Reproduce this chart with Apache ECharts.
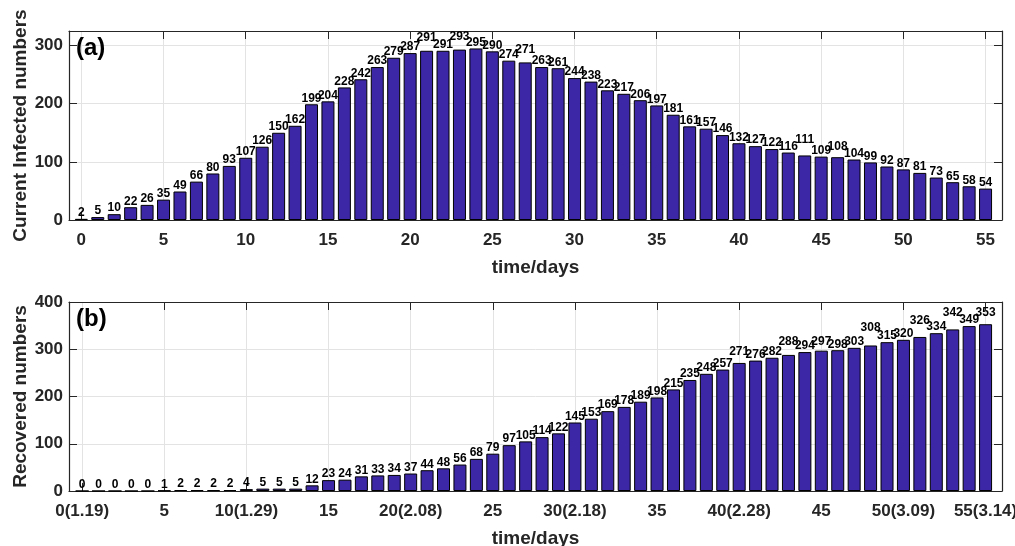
<!DOCTYPE html>
<html>
<head>
<meta charset="utf-8">
<script src="https://cdn.jsdelivr.net/npm/echarts@6/dist/echarts.min.js"></script>
<style>html,body{margin:0;padding:0;background:#fff}#c{width:1015px;height:546px}</style>
</head>
<body>
<div id="c"></div>
<script>
// ---- data ----
const days = [0,1,2,3,4,5,6,7,8,9,10,11,12,13,14,15,16,17,18,19,20,21,22,23,24,25,26,27,
  28,29,30,31,32,33,34,35,36,37,38,39,40,41,42,43,44,45,46,47,48,49,50,51,52,53,54,55];
const infected = [2,5,10,22,26,35,49,66,80,93,107,126,150,162,199,204,228,242,263,279,287,291,291,293,295,290,
  274,271,263,261,244,238,223,217,206,197,181,161,157,146,132,127,122,116,111,109,108,104,99,92,87,81,73,65,58,54];
const recovered = [0,0,0,0,0,1,2,2,2,2,4,5,5,5,12,23,24,31,33,34,37,44,48,56,68,79,97,105,114,122,
  145,153,169,178,189,198,215,235,248,257,271,276,282,288,294,297,298,303,308,315,320,326,334,342,349,353];
const xTicks = [0,5,10,15,20,25,30,35,40,45,50,55];
const xTicksTop = [5,10,15,20,25,30,35,40,45,50,55];
const xTickLabelsB = ['0(1.19)','5','10(1.29)','15','20(2.08)','25','30(2.18)','35','40(2.28)','45','50(3.09)','55(3.14)'];
const yTicksA = [0,100,200,300];
const yTicksB = [0,100,200,300,400];

// ---- styling ----
const FONT = 'Liberation Sans, Arial, Helvetica, sans-serif';
const AX = '#262626';
const BAR = '#3C27A6';
// extra label lift (px) to mimic the staggered labels of the original
const liftA = {21:7, 23:7, 27:7, 44:10, 46:5};
const liftB = {40:5, 43:7, 45:3, 48:12, 51:10, 53:11, 55:6};

function barData(vals, lift) {
  return days.map((d, i) => ({
    value: [d, vals[i]],
    label: lift[i] ? {offset: [0, -lift[i]]} : undefined
  }));
}

function xAxes(gi, min, max, labels) {
  const base = {
    type: 'value', gridIndex: gi, min: min, max: max,
    axisLine: {show: true, onZero: false, lineStyle: {color: AX, width: 1.2}},
    axisTick: {show: true, inside: true, length: 8, customValues: xTicks, lineStyle: {color: AX, width: 1}},
    splitLine: {show: false}
  };
  return [
    Object.assign({}, base, {
      position: 'bottom',
      axisLabel: {
        show: true, customValues: xTicks, color: AX, fontSize: 17, fontWeight: 'bold',
        fontFamily: FONT, margin: 12,
        formatter: v => labels ? labels[xTicks.indexOf(Math.round(v))] : String(Math.round(v))
      },
      splitLine: {show: true, lineStyle: {color: '#e3e3e3', width: 1}},
      name: 'time/days', nameLocation: 'middle', nameGap: 38,
      nameTextStyle: {color: AX, fontSize: 19, fontWeight: 'bold', fontFamily: FONT}
    }),
    Object.assign({}, base, {
      position: 'top', axisLabel: {show: false},
      axisTick: {show: true, inside: true, length: 8, customValues: xTicksTop, lineStyle: {color: AX, width: 1}}
    })
  ];
}

function yAxes(gi, max, ticks, name) {
  const base = {
    type: 'value', gridIndex: gi, min: 0, max: max,
    axisLine: {show: true, onZero: false, lineStyle: {color: AX, width: 1.2}},
    axisTick: {show: true, inside: true, length: 8, customValues: ticks, lineStyle: {color: AX, width: 1}},
    splitLine: {show: false}
  };
  return [
    Object.assign({}, base, {
      position: 'left',
      axisLabel: {show: true, customValues: ticks, color: AX, fontSize: 17, fontWeight: 'bold', fontFamily: FONT, margin: 6},
      splitLine: {show: true, lineStyle: {color: '#e3e3e3', width: 1}},
      name: name, nameLocation: 'middle', nameGap: 39, nameMoveOverlap: false,
      nameTextStyle: {color: AX, fontSize: 19, fontWeight: 'bold', fontFamily: FONT}
    }),
    Object.assign({}, base, {position: 'right', axisLabel: {show: false}})
  ];
}

const xa = xAxes(0, -0.75, 56, null);
const xb = xAxes(1, -0.8, 56, xTickLabelsB);
const ya = yAxes(0, 325, yTicksA, 'Current Infected numbers');
const yb = yAxes(1, 400, yTicksB, 'Recovered numbers');

function barSeries(xi, yi, vals, lift) {
  return {
    type: 'bar', xAxisIndex: xi, yAxisIndex: yi, barWidth: 13,
    data: barData(vals, lift),
    itemStyle: {color: BAR, borderColor: '#000', borderWidth: 1},
    label: {
      show: true, position: 'top', distance: 0, color: '#000',
      fontSize: 12, fontWeight: 'bold', fontFamily: FONT,
      formatter: p => String(p.value[1])
    },
    silent: true, animation: false
  };
}

const chart = echarts.init(document.getElementById('c'), null, {renderer: 'canvas'});
chart.setOption({
  animation: false,
  backgroundColor: '#fff',
  textStyle: {fontFamily: FONT},
  title: [
    {text: '(a)', left: 71, top: 31, textStyle: {fontSize: 24, fontWeight: 'bold', color: '#000', fontFamily: FONT}},
    {text: '(b)', left: 71, top: 302, textStyle: {fontSize: 24, fontWeight: 'bold', color: '#000', fontFamily: FONT}}
  ],
  grid: [
    {left: 69, right: 13, top: 31, height: 189, outerBoundsMode: 'none'},
    {left: 69, right: 13, top: 302, height: 189, outerBoundsMode: 'none'}
  ],
  xAxis: [xa[0], xa[1], xb[0], xb[1]],
  yAxis: [ya[0], ya[1], yb[0], yb[1]],
  series: [
    barSeries(0, 0, infected, liftA),
    barSeries(2, 2, recovered, liftB)
  ]
});
</script>
</body>
</html>
